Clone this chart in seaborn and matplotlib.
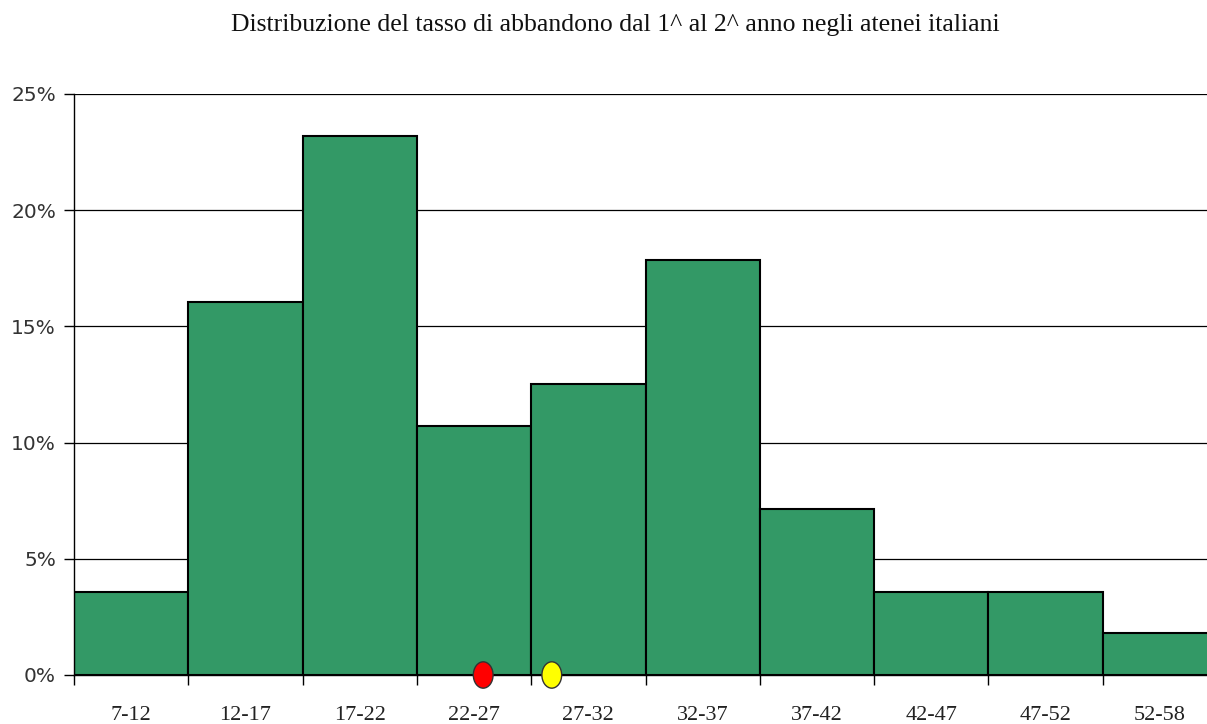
import numpy as np
import pandas as pd
import matplotlib
matplotlib.use("Agg")
import matplotlib.pyplot as plt
from matplotlib.path import Path
from matplotlib.transforms import Affine2D
from matplotlib.ticker import FuncFormatter, FixedLocator
import seaborn as sns

# Dropout rate classes (%) and share of universities in each class
classes = ["7-12", "12-17", "17-22", "22-27", "27-32",
           "32-37", "37-42", "42-47", "47-52", "52-58"]
shares = [3.57, 16.07, 23.21, 10.71, 12.50, 17.86, 7.14, 3.57, 3.57, 1.79]

# Reference rates marked on the axis (%)
marker_rates = [24.9, 27.9]
marker_colors = ["#ff0000", "#ffff00"]

title = "Distribuzione del tasso di abbandono dal 1^ al 2^ anno negli atenei italiani"

sns.set_theme(style="white")
plt.rcParams["font.family"] = ["DejaVu Sans"]

df = pd.DataFrame({"classe": classes, "quota": shares})

fig = plt.figure(figsize=(12.07, 7.24), dpi=100)
ax = fig.add_axes([0.0613, 0.0677, 0.947, 0.8025])

sns.barplot(data=df, x="classe", y="quota", color="#339966", saturation=1,
            width=1.0, edgecolor="black", linewidth=1.5, ax=ax, zorder=3)

ax.set_ylim(0, 25)
ax.set_xlim(-0.5, len(classes) - 0.5)
ax.set_yticks(np.arange(0, 26, 5))
ax.yaxis.set_major_formatter(FuncFormatter(lambda v, p: f"{v:.0f}%"))
ax.grid(axis="y", color="black", linewidth=0.9, zorder=0)
ax.set_axisbelow(True)

# tick marks at class boundaries, labels centred under the bars
ax.xaxis.set_minor_locator(FixedLocator(np.arange(-0.5, len(classes), 1.0)))
ax.tick_params(axis="x", which="major", length=0, pad=22, labelsize=16,
               labelcolor="#222222")
ax.tick_params(axis="x", which="minor", bottom=True, length=7, width=1,
               color="black", direction="out")
ax.tick_params(axis="y", left=True, length=7, width=1, color="black",
               direction="out", labelsize=14.5, labelcolor="#333333", pad=6)
for lbl in ax.get_xticklabels():
    lbl.set_family(["Liberation Serif", "DejaVu Serif"])

for side in ("top", "right"):
    ax.spines[side].set_visible(False)
for side in ("left", "bottom"):
    ax.spines[side].set_color("black")
    ax.spines[side].set_linewidth(1.0)
    ax.spines[side].set_zorder(4)

ax.set_xlabel("")
ax.set_ylabel("")

# oval markers sitting on the horizontal axis
circle = Path.unit_circle()
oval = circle.transformed(Affine2D().scale(0.75, 1.0))
positions = [(r - 7) / 5 - 0.5 for r in marker_rates]
sns.scatterplot(x=positions, y=[0, 0], hue=[str(i) for i in range(len(positions))],
                palette=marker_colors, marker=oval, s=360, edgecolor="#333333",
                linewidth=1.0, legend=False, ax=ax, zorder=6, clip_on=False)
for coll in ax.collections:
    coll.set_clip_on(False)

fig.text(0.51, 0.966, title, ha="center", va="center", fontsize=18.5,
         family=["Liberation Serif", "DejaVu Serif"], color="#111111")

fig.savefig("out.png", dpi=100, facecolor="white")
